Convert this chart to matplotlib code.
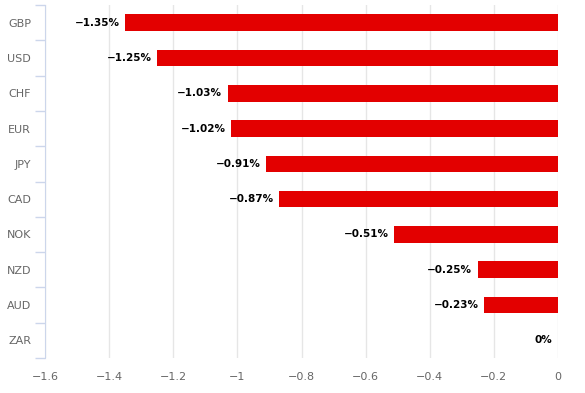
import matplotlib
matplotlib.use("Agg")
import matplotlib.pyplot as plt
import numpy as np

currencies = ["GBP", "USD", "CHF", "EUR", "JPY", "CAD", "NOK", "NZD", "AUD", "ZAR"]
changes = [-1.35, -1.25, -1.03, -1.02, -0.91, -0.87, -0.51, -0.25, -0.23, 0.0]
x_ticks = [-1.6, -1.4, -1.2, -1, -0.8, -0.6, -0.4, -0.2, 0]

fig = plt.figure(figsize=(5.85, 3.93), dpi=100)
ax = fig.add_axes([45 / 585, 1 - 358 / 393, (558 - 45) / 585, (358 - 5) / 393])

y = np.arange(len(currencies))
ax.barh(y, changes, height=0.47, color="#e30000", zorder=3)

for yi, v in zip(y, changes):
    label = "0%" if v == 0 else f"\u2212{abs(v):.2f}%"
    ax.annotate(label, (v, yi), xytext=(-4, 0), textcoords="offset points",
                ha="right", va="center", fontsize=7.5, fontweight="bold",
                color="black", zorder=4)

ax.set_xlim(-1.6, 0)
ax.set_ylim(len(currencies) - 0.5, -0.5)
ax.set_xticks(x_ticks)
ax.set_xticklabels(["\u22121.6", "\u22121.4", "\u22121.2", "\u22121", "\u22120.8",
                    "\u22120.6", "\u22120.4", "\u22120.2", "0"])
ax.set_yticks(y)
ax.set_yticklabels(currencies)
ax.set_yticks(np.arange(len(currencies) + 1) - 0.5, minor=True)

ax.grid(axis="x", color="#e6e6e6", linewidth=1, zorder=0)
for side in ["top", "right", "bottom"]:
    ax.spines[side].set_visible(False)
ax.spines["left"].set_color("#ccd6eb")

ax.tick_params(axis="y", which="major", length=0, pad=10, labelsize=8, labelcolor="#666666")
ax.tick_params(axis="y", which="minor", length=7, color="#ccd6eb", width=1)
ax.tick_params(axis="x", length=0, pad=10, labelsize=8, labelcolor="#666666")

fig.savefig("out.png", dpi=100)
